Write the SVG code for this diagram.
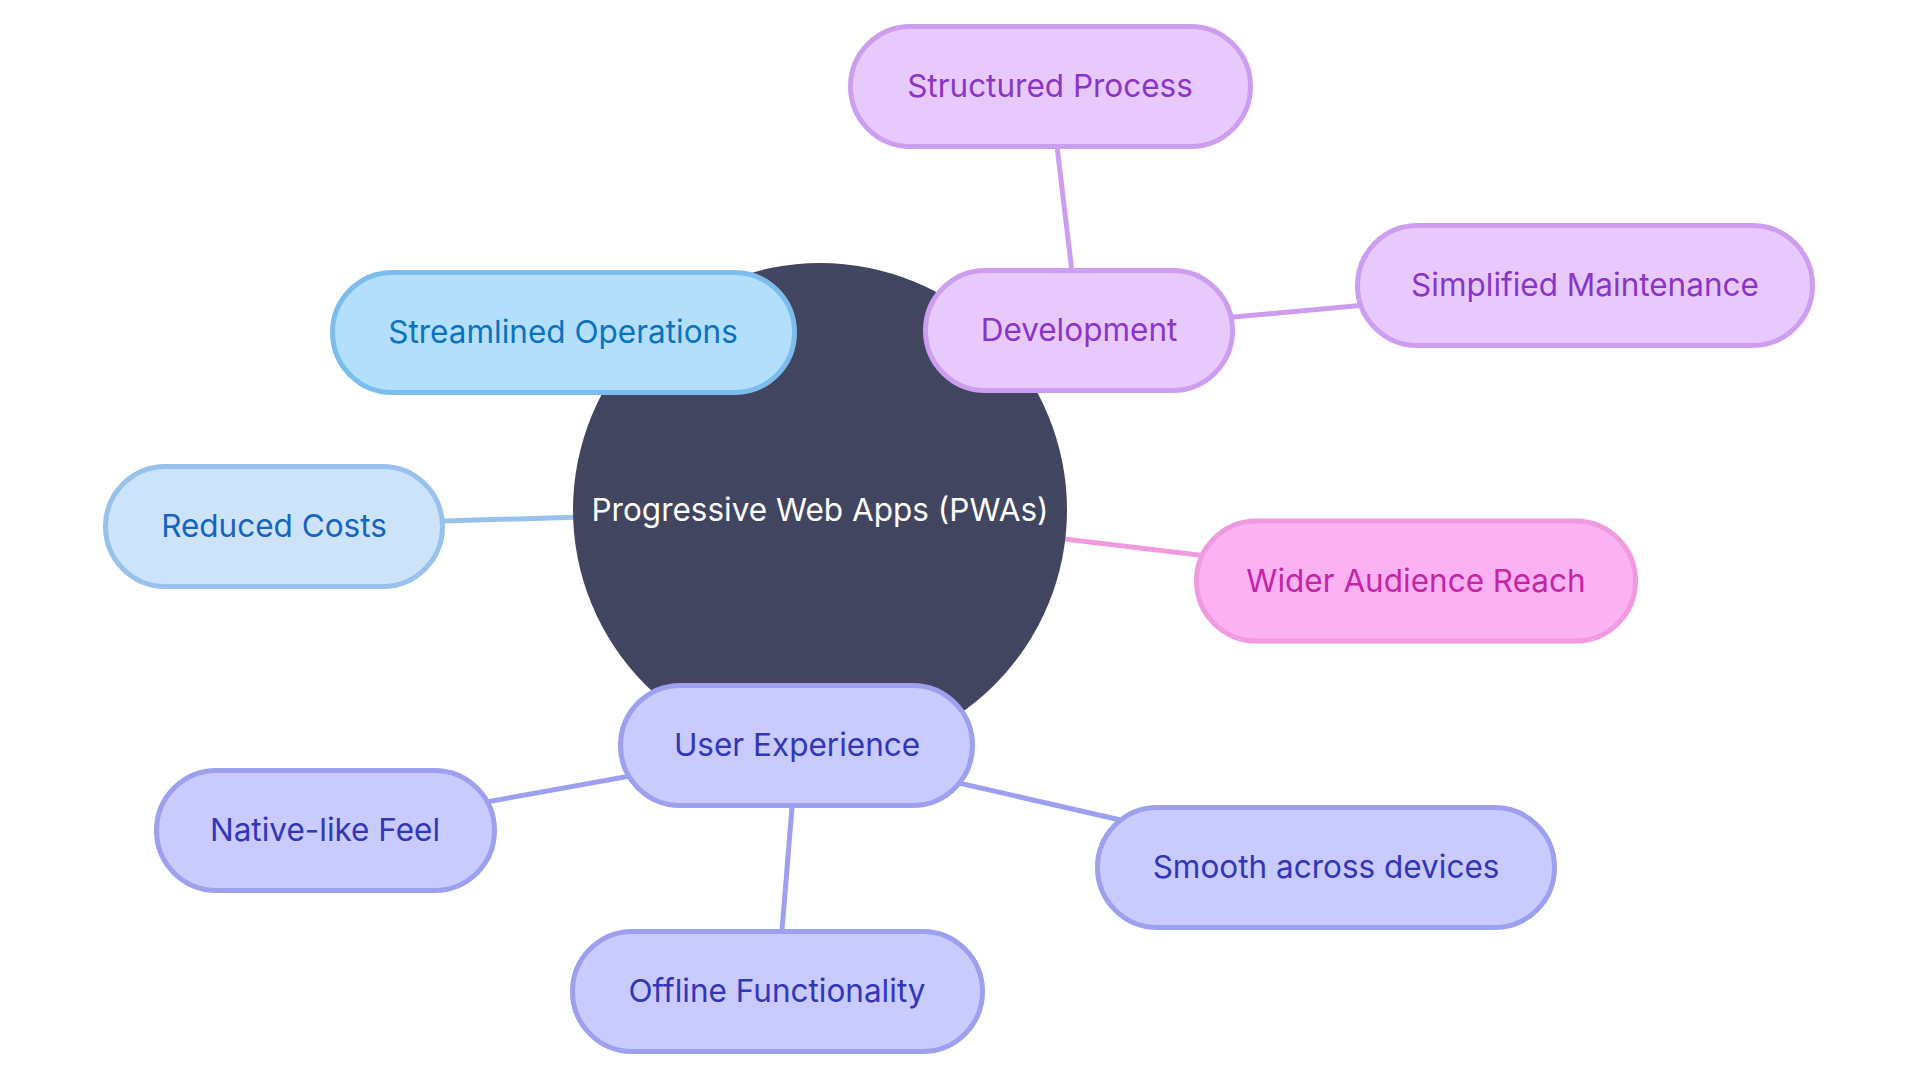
<svg xmlns="http://www.w3.org/2000/svg" width="1920" height="1080" viewBox="0 0 1920 1080">
<style>
  text { font-family: Inter, "Noto Sans", "Liberation Sans", sans-serif; font-size: 31.5px; text-anchor: middle; dominant-baseline: central; }
  .edge { stroke-width: 5; fill: none; }
  .node rect { stroke-width: 5; }
  .blue rect { fill: #b3dffd; stroke: #7cbdee; } .blue text { fill: #0b72c0; }
  .lblue rect { fill: #cde3fa; stroke: #98c1ec; } .lblue text { fill: #1565c0; }
  .purple rect { fill: #e8c9fd; stroke: #cd9ef0; } .purple text { fill: #8a35c8; }
  .pink rect { fill: #fcb2f2; stroke: #f09ae0; } .pink text { fill: #c424a5; }
  .indigo rect { fill: #c9cafd; stroke: #9ca0ee; } .indigo text { fill: #3236b8; }
</style>
<rect width="1920" height="1080" fill="#ffffff"/>
<g id="connectors">
  <line class="edge" x1="274" y1="526" x2="820" y2="510" stroke="#98c1ec"/>
  <line class="edge" x1="820" y1="510" x2="1416" y2="581" stroke="#f09ae0"/>
  <line class="edge" x1="1079" y1="331" x2="1050" y2="87" stroke="#cd9ef0"/>
  <line class="edge" x1="1079" y1="331" x2="1585" y2="285" stroke="#cd9ef0"/>
  <line class="edge" x1="797" y1="746" x2="325" y2="831" stroke="#9ca0ee"/>
  <line class="edge" x1="797" y1="746" x2="777" y2="992" stroke="#9ca0ee"/>
  <line class="edge" x1="797" y1="746" x2="1326" y2="867" stroke="#9ca0ee"/>
</g>
<g id="root">
  <circle cx="820" cy="510" r="247" fill="#414560"/>
  <text x="820" y="509" fill="#ffffff">Progressive Web Apps (PWAs)</text>
</g>
<g id="streamlined" class="node blue">
  <rect x="332.5" y="272.5" width="462" height="120" rx="60"/>
  <text x="563" y="331">Streamlined Operations</text>
</g>
<g id="reduced" class="node lblue">
  <rect x="105.5" y="466.5" width="337" height="120" rx="60"/>
  <text x="274" y="525">Reduced Costs</text>
</g>
<g id="development" class="node purple">
  <rect x="925.5" y="270.5" width="307" height="120" rx="60"/>
  <text x="1079" y="329">Development</text>
</g>
<g id="structured" class="node purple">
  <rect x="850.5" y="26.5" width="400" height="120" rx="60"/>
  <text x="1050" y="85">Structured Process</text>
</g>
<g id="simplified" class="node purple">
  <rect x="1357.5" y="225.5" width="455" height="120" rx="60"/>
  <text x="1585" y="284">Simplified Maintenance</text>
</g>
<g id="wider" class="node pink">
  <rect x="1196.5" y="521" width="439" height="120" rx="60"/>
  <text x="1416" y="580">Wider Audience Reach</text>
</g>
<g id="ux" class="node indigo">
  <rect x="620.5" y="685.5" width="352" height="120" rx="60"/>
  <text x="797" y="744">User Experience</text>
</g>
<g id="native" class="node indigo">
  <rect x="156.5" y="770.5" width="338" height="120" rx="60"/>
  <text x="325" y="829">Native-like Feel</text>
</g>
<g id="offline" class="node indigo">
  <rect x="572.5" y="931.5" width="410" height="120" rx="60"/>
  <text x="777" y="990">Offline Functionality</text>
</g>
<g id="smooth" class="node indigo">
  <rect x="1097.5" y="807.5" width="457" height="120" rx="60"/>
  <text x="1326" y="866">Smooth across devices</text>
</g>
</svg>
